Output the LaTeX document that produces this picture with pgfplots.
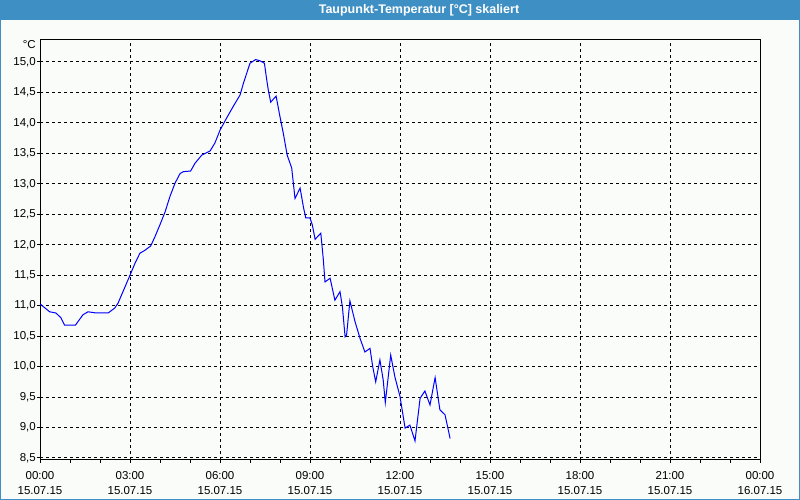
\documentclass[border=0pt]{standalone}
\usepackage{fontspec}
\setmainfont{Liberation Sans}
\usepackage{pgfplots}
\pgfplotsset{compat=1.18}
\definecolor{titlebar}{RGB}{62,143,196}
\definecolor{panel}{RGB}{250,252,250}

\begin{document}
\begin{tikzpicture}
\useasboundingbox (0pt,0pt) rectangle (800pt,500pt);
\fill[panel] (0pt,0pt) rectangle (800pt,500pt);
\fill[titlebar] (0pt,480pt) rectangle (800pt,500pt);
\draw[titlebar,line width=1pt] (0.5pt,0.5pt) rectangle (799.5pt,499.5pt);
\node[text=white,font=\bfseries\fontsize{12.5}{14}\selectfont] at (419pt,489.5pt) {Taupunkt-Temperatur [°C] skaliert};
\node[anchor=east,inner sep=0pt,font=\fontsize{11.5}{13}\selectfont] at (36pt,455pt) {°C};
\begin{axis}[
    at={(40pt,40pt)}, anchor=south west,
    scale only axis, width=720pt, height=420pt,
    xmin=0, xmax=24, ymin=8.467, ymax=15.361,
    axis line style={black,line width=1pt},
    xtick={0,3,...,24},
    xticklabels={{00:00\\15.07.15},{03:00\\15.07.15},{06:00\\15.07.15},{09:00\\15.07.15},{12:00\\15.07.15},{15:00\\15.07.15},{18:00\\15.07.15},{21:00\\15.07.15},{00:00\\16.07.15}},
    minor x tick num=2,
    ytick={8.5,9,...,15},
    xtick pos=lower, ytick pos=left,
    tick align=outside,
    major tick length=3pt, minor tick length=3pt,
    tick style={black,line width=1pt},
    grid=major,
    major grid style={black,line width=1pt,dash pattern=on 3pt off 3pt},
    /pgf/number format/assume math mode=true,
    yticklabel={\pgfmathprintnumber[fixed,fixed zerofill,precision=1,use comma]{\tick}},
    ticklabel style={font=\fontsize{11.5}{15.5}\selectfont},
    yticklabel style={inner sep=0pt,xshift=-1pt},
    xticklabel style={align=center,inner sep=0pt,yshift=-8pt},
]
\addplot[blue,line width=1pt] coordinates {
(0,11.03)(0.32,10.90)(0.53,10.88)(0.70,10.80)(0.82,10.68)(1.18,10.68)
(1.43,10.85)(1.60,10.90)(1.87,10.88)(2.27,10.88)(2.49,10.96)(2.60,11.04)
(3.00,11.50)(3.17,11.70)(3.33,11.86)(3.50,11.91)(3.69,11.98)(3.83,12.13)
(4.00,12.33)(4.17,12.54)(4.33,12.79)(4.50,13.01)(4.67,13.17)(4.78,13.20)
(5.02,13.21)(5.17,13.34)(5.39,13.47)(5.67,13.54)(5.83,13.67)(6.00,13.88)
(6.22,14.08)(6.44,14.27)(6.67,14.46)(6.78,14.65)(7.00,14.98)(7.19,15.04)
(7.33,15.02)(7.48,14.98)(7.56,14.70)(7.61,14.54)(7.69,14.34)(7.76,14.38)
(7.87,14.44)(8.00,14.10)(8.11,13.83)(8.24,13.47)(8.39,13.26)(8.50,12.76)
(8.67,12.93)(8.78,12.62)(8.86,12.44)(9.00,12.44)(9.08,12.32)(9.17,12.09)
(9.36,12.19)(9.44,11.78)(9.50,11.39)(9.67,11.45)(9.83,11.09)(10.00,11.23)
(10.08,10.98)(10.17,10.49)(10.22,10.52)(10.33,11.08)(10.50,10.74)(10.67,10.46)
(10.83,10.24)(11.00,10.30)(11.09,10.00)(11.19,9.75)(11.33,10.11)(11.44,9.78)
(11.51,9.41)(11.69,10.19)(11.83,9.83)(12.00,9.51)(12.17,8.99)(12.33,9.04)
(12.50,8.78)(12.67,9.48)(12.83,9.60)(13.00,9.37)(13.17,9.82)(13.33,9.29)
(13.50,9.21)(13.67,8.82)
};
\end{axis}
\end{tikzpicture}
\end{document}
